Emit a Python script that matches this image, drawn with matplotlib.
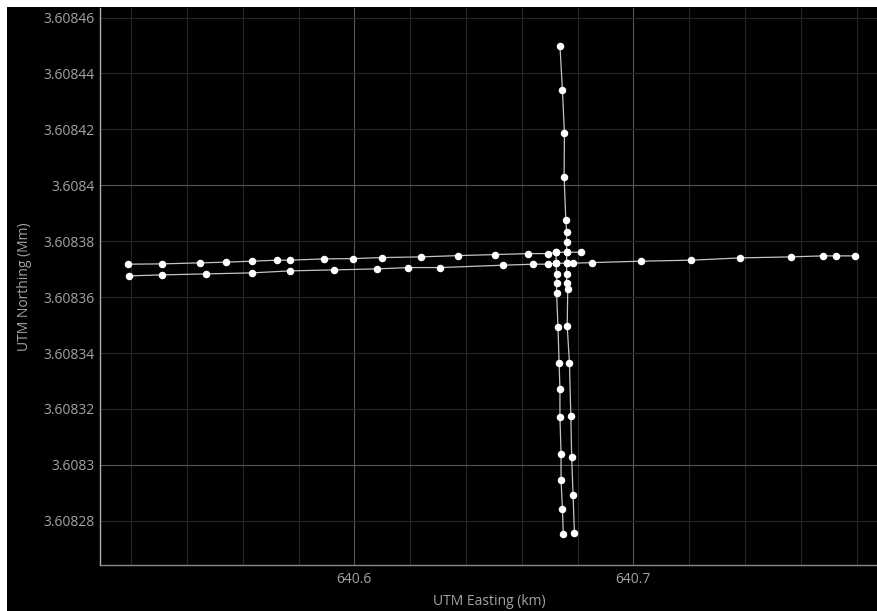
import matplotlib
matplotlib.use("Agg")
import matplotlib.pyplot as plt
import matplotlib.patches as pch
from matplotlib.ticker import MultipleLocator, FuncFormatter

# GPS fixes, UTM coordinates in metres
east_e = [640519.3, 640531.0, 640547.0, 640563.2, 640576.9, 640592.6, 640608.2, 640619.4,
          640630.7, 640653.4, 640664.2, 640669.5, 640672.3, 640676.1, 640678.3, 640685.3,
          640702.8, 640720.8, 640738.4, 640756.4, 640767.9, 640772.8, 640779.4]
east_n = [3608367.60, 3608367.95, 3608368.31, 3608368.67, 3608369.38, 3608369.74, 3608370.10,
          3608370.57, 3608370.57, 3608371.42, 3608371.78, 3608371.78, 3608372.14, 3608372.14,
          3608372.14, 3608372.35, 3608372.85, 3608373.21, 3608374.03, 3608374.39, 3608374.75,
          3608374.75, 3608374.75]

west_e = [640681.4, 640676.1, 640672.3, 640669.5, 640662.4, 640650.3, 640637.3, 640623.9,
          640609.8, 640599.5, 640589.1, 640576.9, 640572.3, 640563.2, 640553.9, 640544.7,
          640531.0, 640518.8]
west_n = [3608376.07, 3608376.07, 3608376.07, 3608375.57, 3608375.57, 3608375.21, 3608374.86,
          3608374.39, 3608374.14, 3608373.78, 3608373.68, 3608373.21, 3608373.21, 3608372.85,
          3608372.50, 3608372.25, 3608371.89, 3608371.78]

south_e = [640673.7, 640674.6, 640675.3, 640675.2, 640675.8, 640676.1, 640676.1, 640676.1,
           640676.1, 640676.1, 640676.1, 640676.5, 640676.3, 640677.1, 640677.6, 640677.9,
           640678.4, 640678.9]
south_n = [3608449.86, 3608434.01, 3608418.74, 3608403.11, 3608387.52, 3608383.44, 3608379.65,
           3608376.07, 3608372.14, 3608368.21, 3608364.99, 3608362.95, 3608349.71, 3608336.59,
           3608317.53, 3608302.97, 3608289.27, 3608275.57]

north_e = [640674.9, 640674.6, 640674.1, 640674.1, 640673.7, 640673.7, 640673.4, 640673.0,
           640672.5, 640672.5, 640672.5, 640672.3, 640672.3]
north_n = [3608275.21, 3608284.26, 3608294.53, 3608303.83, 3608317.06, 3608327.07, 3608336.59,
           3608349.25, 3608361.52, 3608364.99, 3608368.21, 3608372.14, 3608376.07]

tracks = [(east_e, east_n), (west_e, west_n), (south_e, south_n), (north_e, north_n)]

TXT = '#a3a3a3'
plt.rcParams['font.family'] = ['Open Sans', 'DejaVu Sans']
plt.rcParams['font.size'] = 10

fig = plt.figure(figsize=(8.78, 6.11), dpi=100, facecolor='white')
fig.patches.append(pch.Rectangle((7 / 878, 0), 1, 604 / 611, transform=fig.transFigure,
                                 fc='black', ec='none', zorder=-1))
ax = fig.add_axes([100 / 878, 46 / 611, 778 / 878, 557 / 611])
ax.set_facecolor('black')

for e, n in tracks:
    ax.plot([v / 1e3 for v in e], [v / 1e6 for v in n], color='#c4c4c4', lw=0.9,
            marker='o', ms=4.4, mfc='white', mec='white', zorder=3)

ax.set_xlim(640.50885, 640.7877)
ax.set_ylim(3.6082642, 3.6084634)

ax.xaxis.set_major_locator(MultipleLocator(0.1))
ax.xaxis.set_minor_locator(MultipleLocator(0.02))
ax.yaxis.set_major_locator(MultipleLocator(0.0001))
ax.yaxis.set_minor_locator(MultipleLocator(0.00002))

fmt = FuncFormatter(lambda v, p: f"{v:.5f}".rstrip('0').rstrip('.'))
ax.xaxis.set_major_formatter(FuncFormatter(lambda v, p: f"{v:.1f}"))
ax.yaxis.set_major_formatter(fmt)
ax.yaxis.set_minor_formatter(fmt)

ax.grid(which='major', color='#555555', lw=0.8)
ax.grid(which='minor', color='#252525', lw=0.8)
ax.set_axisbelow(True)

ax.tick_params(which='both', length=0, colors=TXT, labelsize=10)
ax.tick_params(axis='y', which='both', pad=4)
ax.tick_params(axis='x', which='both', pad=5)

for s in ['top', 'right']:
    ax.spines[s].set_visible(False)
ax.spines['left'].set_color('#b0b0b0')
ax.spines['bottom'].set_color('#8a8a8a')
ax.spines['left'].set_linewidth(1.0)
ax.spines['bottom'].set_linewidth(1.0)

ax.set_xlabel('UTM Easting (km)', color=TXT, fontsize=10)
ax.set_ylabel('UTM Northing (Mm)', color=TXT, fontsize=10)
ax.xaxis.set_label_coords(0.5, -0.052)
ax.yaxis.set_label_coords(-0.087, 0.5)

fig.savefig('out.png', dpi=100, facecolor=fig.get_facecolor())
